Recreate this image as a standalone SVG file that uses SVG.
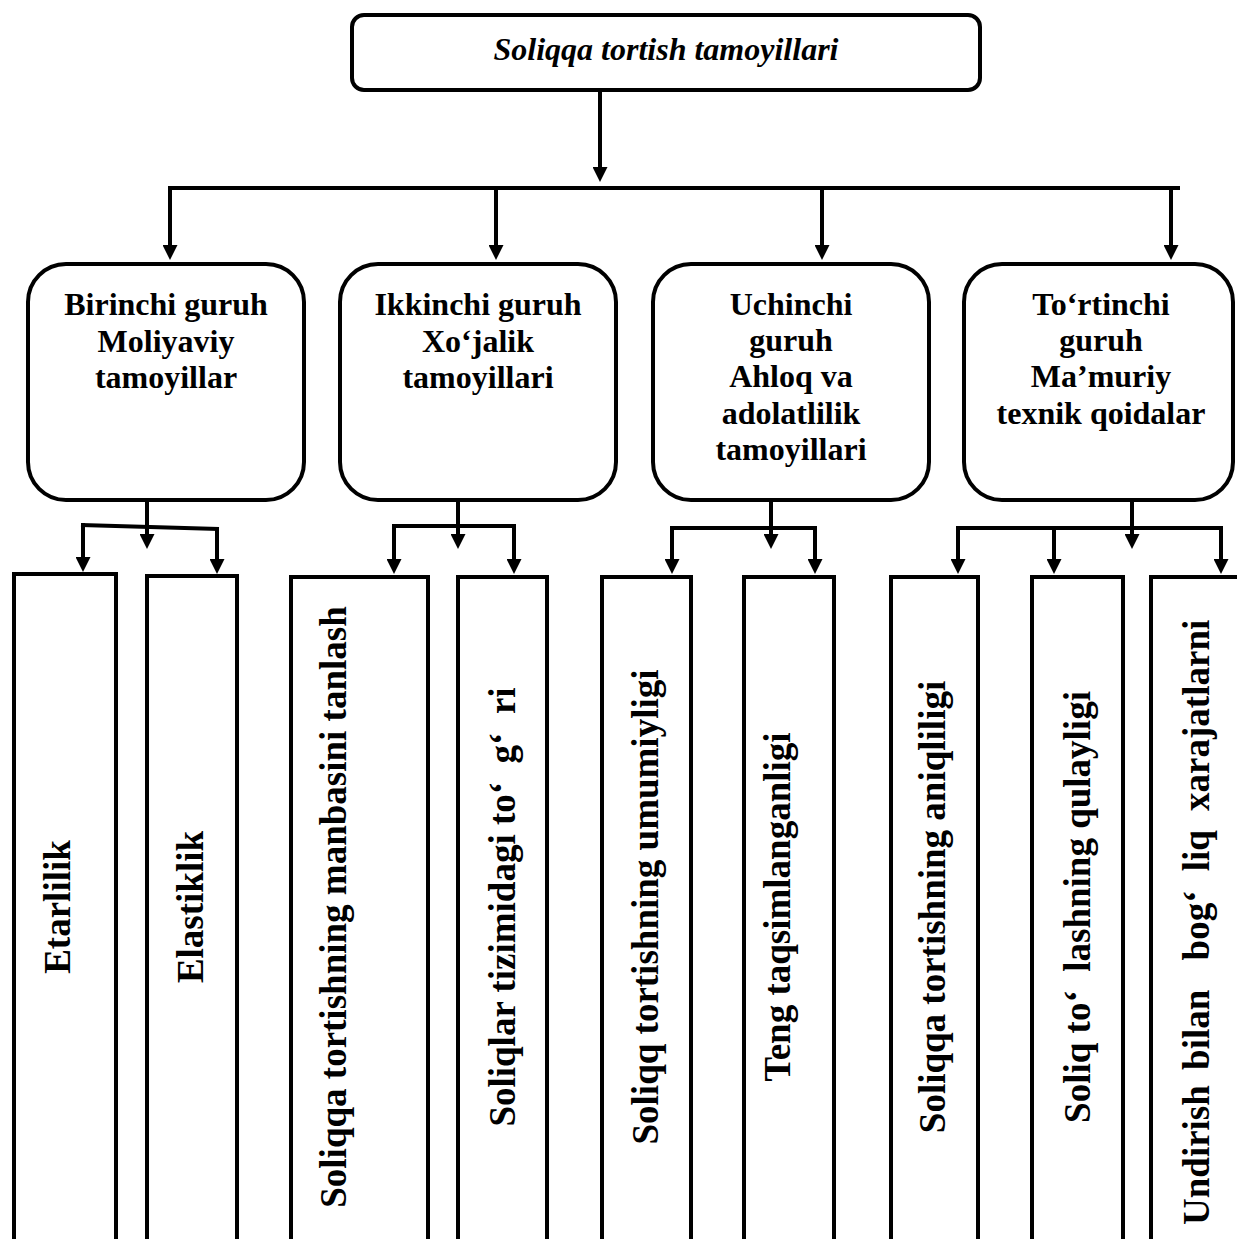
<svg xmlns="http://www.w3.org/2000/svg" width="1237" height="1239" viewBox="0 0 1237 1239">
  <style>
    .box { fill: #fff; stroke: #000; stroke-width: 4; }
    .ln { fill: none; stroke: #000; stroke-width: 4; }
    .t { font-family: "Liberation Serif", "Times New Roman", serif; font-weight: bold; font-size: 32px; text-anchor: middle; fill: #000; }
    .ti { font-style: italic; }
    .v { font-size: 37px; }
  </style>
  <defs>
    <marker id="ah" markerUnits="userSpaceOnUse" markerWidth="15" markerHeight="15" viewBox="0 0 15 15" refX="4" refY="7.5" orient="auto">
      <path d="M0,0 L15,7.5 L0,15 z" fill="#000"/>
    </marker>
  </defs>
  <rect width="1237" height="1239" fill="#fff"/>

  <!-- connectors -->
  <g id="connectors">
    <line class="ln" x1="600" y1="91" x2="600" y2="171" marker-end="url(#ah)"/>
    <line class="ln" x1="168" y1="188" x2="1180" y2="188"/>
    <line class="ln" x1="170" y1="186" x2="170" y2="249" marker-end="url(#ah)"/>
    <line class="ln" x1="496" y1="186" x2="496" y2="249" marker-end="url(#ah)"/>
    <line class="ln" x1="822" y1="186" x2="822" y2="249" marker-end="url(#ah)"/>
    <line class="ln" x1="1171" y1="186" x2="1171" y2="249" marker-end="url(#ah)"/>

    <!-- group 1 -->
    <line class="ln" x1="147" y1="502" x2="147" y2="538" marker-end="url(#ah)"/>
    <line class="ln" x1="81" y1="525" x2="219" y2="529"/>
    <line class="ln" x1="83" y1="523" x2="83" y2="561" marker-end="url(#ah)"/>
    <line class="ln" x1="217" y1="527" x2="217" y2="563" marker-end="url(#ah)"/>

    <!-- group 2 -->
    <line class="ln" x1="458" y1="502" x2="458" y2="538" marker-end="url(#ah)"/>
    <line class="ln" x1="392" y1="526" x2="516" y2="526"/>
    <line class="ln" x1="394" y1="524" x2="394" y2="563" marker-end="url(#ah)"/>
    <line class="ln" x1="514" y1="524" x2="514" y2="563" marker-end="url(#ah)"/>

    <!-- group 3 -->
    <line class="ln" x1="771" y1="502" x2="771" y2="538" marker-end="url(#ah)"/>
    <line class="ln" x1="670" y1="528" x2="817" y2="528"/>
    <line class="ln" x1="672" y1="526" x2="672" y2="563" marker-end="url(#ah)"/>
    <line class="ln" x1="815" y1="526" x2="815" y2="563" marker-end="url(#ah)"/>

    <!-- group 4 -->
    <line class="ln" x1="1132" y1="502" x2="1132" y2="538" marker-end="url(#ah)"/>
    <line class="ln" x1="956" y1="528" x2="1223" y2="528"/>
    <line class="ln" x1="958" y1="526" x2="958" y2="563" marker-end="url(#ah)"/>
    <line class="ln" x1="1054" y1="526" x2="1054" y2="563" marker-end="url(#ah)"/>
    <line class="ln" x1="1221" y1="526" x2="1221" y2="563" marker-end="url(#ah)"/>
  </g>

  <!-- root -->
  <g id="root">
    <rect class="box" x="352" y="15" width="628" height="75" rx="12"/>
    <text class="t ti" x="666" y="60">Soliqqa tortish tamoyillari</text>
  </g>

  <!-- groups -->
  <g id="group1">
    <rect class="box" x="28" y="264" width="276" height="236" rx="38"/>
    <text class="t" x="166" y="315">Birinchi guruh</text>
    <text class="t" x="166" y="352">Moliyaviy</text>
    <text class="t" x="166" y="388">tamoyillar</text>
  </g>
  <g id="group2">
    <rect class="box" x="340" y="264" width="276" height="236" rx="38"/>
    <text class="t" x="478" y="315">Ikkinchi guruh</text>
    <text class="t" x="478" y="352">Xo‘jalik</text>
    <text class="t" x="478" y="388">tamoyillari</text>
  </g>
  <g id="group3">
    <rect class="box" x="653" y="264" width="276" height="236" rx="38"/>
    <text class="t" x="791" y="315">Uchinchi</text>
    <text class="t" x="791" y="351">guruh</text>
    <text class="t" x="791" y="387">Ahloq va</text>
    <text class="t" x="791" y="424">adolatlilik</text>
    <text class="t" x="791" y="460">tamoyillari</text>
  </g>
  <g id="group4">
    <rect class="box" x="964" y="264" width="269" height="236" rx="38"/>
    <text class="t" x="1101" y="315">To‘rtinchi</text>
    <text class="t" x="1101" y="351">guruh</text>
    <text class="t" x="1101" y="387">Ma’muriy</text>
    <text class="t" x="1101" y="424">texnik qoidalar</text>
  </g>

  <!-- leaf principles (vertical labels) -->
  <g id="etarlilik">
    <rect class="box" x="14" y="574" width="102" height="700"/>
    <text class="t v" transform="translate(70,907) rotate(-90)">Etarlilik</text>
  </g>
  <g id="elastiklik">
    <rect class="box" x="147" y="576" width="90" height="700"/>
    <text class="t v" transform="translate(203,907) rotate(-90)">Elastiklik</text>
  </g>
  <g id="manba">
    <rect class="box" x="291" y="577" width="137" height="700"/>
    <text class="t v" transform="translate(346,907) rotate(-90)">Soliqqa tortishning manbasini tanlash</text>
  </g>
  <g id="tizim">
    <rect class="box" x="458" y="577" width="89" height="700"/>
    <text class="t v" xml:space="preserve" transform="translate(515,907) rotate(-90)">Soliqlar tizimidagi to‘  g‘  ri</text>
  </g>
  <g id="umumiylik">
    <rect class="box" x="602" y="577" width="89" height="700"/>
    <text class="t v" transform="translate(658,907) rotate(-90)">Soliqq tortishning umumiyligi</text>
  </g>
  <g id="teng">
    <rect class="box" x="744" y="577" width="90" height="700"/>
    <text class="t v" transform="translate(790,907) rotate(-90)">Teng taqsimlanganligi</text>
  </g>
  <g id="aniqlik">
    <rect class="box" x="891" y="577" width="87" height="700"/>
    <text class="t v" transform="translate(945,907) rotate(-90)">Soliqqa tortishning aniqliligi</text>
  </g>
  <g id="qulaylik">
    <rect class="box" x="1032" y="577" width="91" height="700"/>
    <text class="t v" xml:space="preserve" transform="translate(1090,907) rotate(-90)">Soliq to‘  lashning qulayligi</text>
  </g>
  <g id="xarajat">
    <rect class="box" x="1151" y="577" width="120" height="700"/>
    <text class="t v" style="text-anchor:start" transform="translate(1209,1225) rotate(-90)">Undirish<tspan dx="6"> bilan</tspan><tspan dx="20"> bog‘</tspan><tspan dx="10"> liq</tspan><tspan dx="10"> xarajatlarni</tspan></text>
  </g>
</svg>
